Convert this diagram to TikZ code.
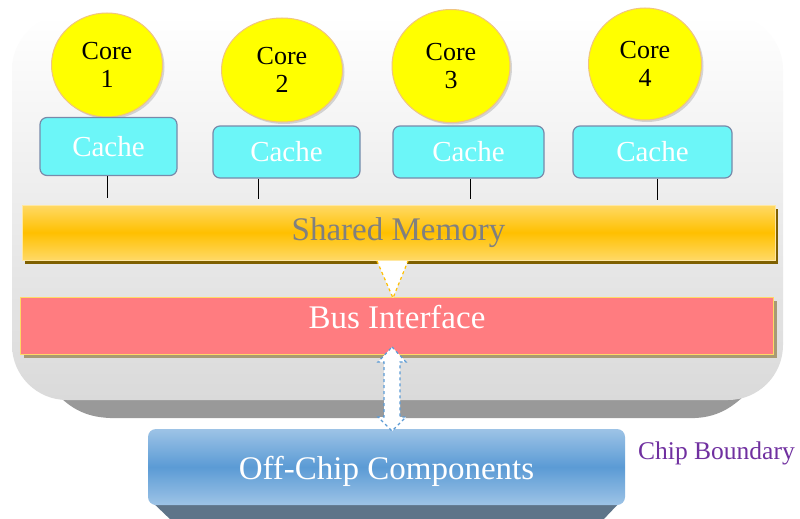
\documentclass[tikz,border=0pt]{standalone}
\usepackage{fontspec}
\setmainfont{Liberation Serif}
\newfontfamily\serifx{Liberation Serif}
\usetikzlibrary{shapes.geometric,shadows,calc}
\definecolor{coreY}{RGB}{255,255,0}
\definecolor{coreB}{RGB}{240,196,128}
\definecolor{cacheF}{RGB}{108,246,248}
\definecolor{cacheB}{RGB}{120,138,170}
\definecolor{smL}{RGB}{255,217,102}
\definecolor{smM}{RGB}{255,192,0}
\definecolor{smS}{RGB}{127,96,0}
\definecolor{biF}{RGB}{255,124,128}
\definecolor{biB}{RGB}{255,217,102}
\definecolor{biS}{RGB}{168,154,116}
\definecolor{ocL}{RGB}{157,195,230}
\definecolor{ocM}{RGB}{91,155,213}
\definecolor{ocD}{RGB}{94,116,137}
\definecolor{chipG}{RGB}{218,218,218}
\definecolor{chipM}{RGB}{236,236,236}
\definecolor{chipD}{RGB}{153,153,153}
\definecolor{purp}{RGB}{112,48,160}
\definecolor{smtext}{RGB}{128,128,128}
\begin{document}
\begin{tikzpicture}[x=1pt,y=-1pt,
  core/.style={ellipse, fill=coreY, draw=coreB, line width=1pt, inner sep=0pt,
    align=center, font=\serifx\fontsize{26}{28}\selectfont,
    drop shadow={shadow xshift=2pt,shadow yshift=-2pt,opacity=.3}},
  cachebox/.style={rectangle, rounded corners=7pt, fill=cacheF, draw=cacheB,
    line width=1.2pt, text=white, font=\serifx\fontsize{29}{32}\selectfont, inner sep=0pt},
  bar/.style={rectangle, inner sep=0pt, minimum width=753pt, minimum height=55pt,
    font=\serifx\fontsize{33}{36}\selectfont},
  wire/.style={line width=1pt, black}
]
\useasboundingbox (0,0) rectangle (800,519);
\fill[white] (0,0) rectangle (800,519);

% chip boundary
\fill[chipD] (55,392) .. controls (70,408) and (85,417) .. (110,418) -- (695,418)
  .. controls (720,417) and (735,405) .. (748,392) -- cycle;
\shade[top color=white, bottom color=chipG, middle color=chipM, rounded corners=55pt]
  (12,15) rectangle (783,400);

% cores
\node[core, minimum width=111pt, minimum height=104pt] (c1) at (107,65) {Core\\1};
\node[core, minimum width=121pt, minimum height=104pt] (c2) at (282,70) {Core\\2};
\node[core, minimum width=118pt, minimum height=113pt] (c3) at (451,66) {Core\\3};
\node[core, minimum width=113pt, minimum height=112pt] (c4) at (645,64) {Core\\4};

% caches
\node[cachebox, minimum width=137pt, minimum height=58pt] (k1) at (108.5,146.5) {Cache};
\node[cachebox, minimum width=147pt, minimum height=52pt] (k2) at (286.5,152) {Cache};
\node[cachebox, minimum width=151pt, minimum height=52pt] (k3) at (468.5,152) {Cache};
\node[cachebox, minimum width=159pt, minimum height=52pt] (k4) at (652.5,152) {Cache};

\draw[wire] ([xshift=-1.5pt]k1.south) -- ++(0,22);
\draw[wire] ([xshift=-28.5pt]k2.south) -- ++(0,20);
\draw[wire] ([xshift=1.5pt]k3.south) -- ++(0,20);
\draw[wire] ([xshift=4.5pt]k4.south) -- ++(0,21);

% shared memory
\node[bar, top color=smL, bottom color=smL, middle color=smM, draw=smL!60!white,
  text=smtext, drop shadow={shadow xshift=3pt,shadow yshift=-4pt,fill=smS,opacity=1}]
  (sm) at (398.5,232.5) {Shared Memory};

% bus interface
\node[bar, minimum height=57pt, fill=biF, draw=biB, line width=1.5pt, text=white,
  text depth=18.6pt, drop shadow={shadow xshift=3pt,shadow yshift=-3pt,fill=biS,opacity=1}]
  (bi) at (397,326) {Bus Interface};

% triangle arrow
\coordinate (tA) at (377,261);
\coordinate (tB) at (408,261);
\coordinate (tC) at (393,298);
\fill[white] (tA) -- (tB) -- (tC) -- cycle;
\draw[smM, dashed, line width=1.2pt] (tA) -- (tC) -- (tB);

% off-chip
\fill[ocD] (150,500) -- (622,500) -- (602,521) -- (172,521) -- cycle;
\node[rectangle, rounded corners=8pt, minimum width=477pt, minimum height=76pt,
  inner sep=0pt, top color=ocL, bottom color=ocL, middle color=ocM, text=white,
  font=\serifx\fontsize{33}{36}\selectfont, text height=33pt]
  (oc) at (386.5,467) {Off-Chip Components};

% double arrow
\filldraw[fill=white, draw=ocM, dashed, line width=1.2pt]
  (392,347) -- (406,362) -- (400,362) -- (400,417) -- (406,417) -- (392,431)
  -- (378,417) -- (384,417) -- (384,362) -- (378,362) -- cycle;

% label
\node[anchor=west, text=purp, font=\serifx\fontsize{25.5}{28}\selectfont, inner sep=0pt]
  (cb) at (638,453) {Chip Boundary};
\end{tikzpicture}
\end{document}
